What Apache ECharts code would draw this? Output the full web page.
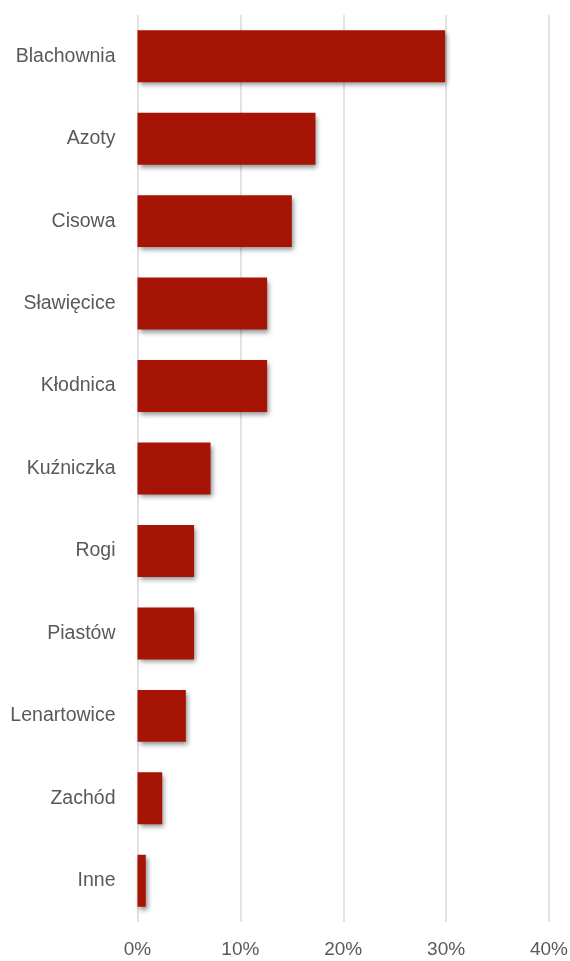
<!DOCTYPE html>
<html>
<head>
<meta charset="utf-8">
<script src="https://cdn.jsdelivr.net/npm/echarts@6/dist/echarts.min.js"></script>
<style>
html,body{margin:0;padding:0;background:#fff;}
#chart{width:570px;height:961px;}
</style>
</head>
<body>
<div id="chart"></div>
<script>
const categories = ['Blachownia','Azoty','Cisowa','Sławięcice','Kłodnica','Kuźniczka','Rogi','Piastów','Lenartowice','Zachód','Inne'];
const shares = [29.9, 17.3, 15.0, 12.6, 12.6, 7.1, 5.5, 5.5, 4.7, 2.4, 0.8];
const tickValues = [0, 10, 20, 30, 40];

const FONT = "'Liberation Sans', Arial, sans-serif";
const chart = echarts.init(document.getElementById('chart'), null, {renderer: 'canvas'});
chart.setOption({
  animation: false,
  backgroundColor: '#ffffff',
  grid: {left: 137.5, right: 21, top: 15, bottom: 39, containLabel: false, outerBoundsMode: 'none'},
  xAxis: {
    type: 'value',
    min: tickValues[0],
    max: tickValues[tickValues.length - 1],
    interval: 10,
    axisLine: {show: false},
    axisTick: {show: false},
    splitLine: {show: true, lineStyle: {color: '#d9d9d9', width: 1.5}},
    axisLabel: {
      formatter: v => v + '%',
      color: '#595959',
      fontFamily: FONT,
      fontSize: 19,
      margin: 18,
      hideOverlap: false
    }
  },
  yAxis: {
    type: 'category',
    data: categories,
    inverse: true,
    axisLine: {show: false},
    axisTick: {show: false},
    splitLine: {show: false},
    axisLabel: {
      color: '#595959',
      fontFamily: FONT,
      fontSize: 19.5,
      margin: 22,
      interval: 0
    }
  },
  series: [{
    type: 'bar',
    data: shares,
    barCategoryGap: '37%',
    itemStyle: {
      color: '#a51405',
      shadowColor: 'rgba(0,0,0,0.45)',
      shadowBlur: 5,
      shadowOffsetX: 2,
      shadowOffsetY: 3
    }
  }]
});
</script>
</body>
</html>
